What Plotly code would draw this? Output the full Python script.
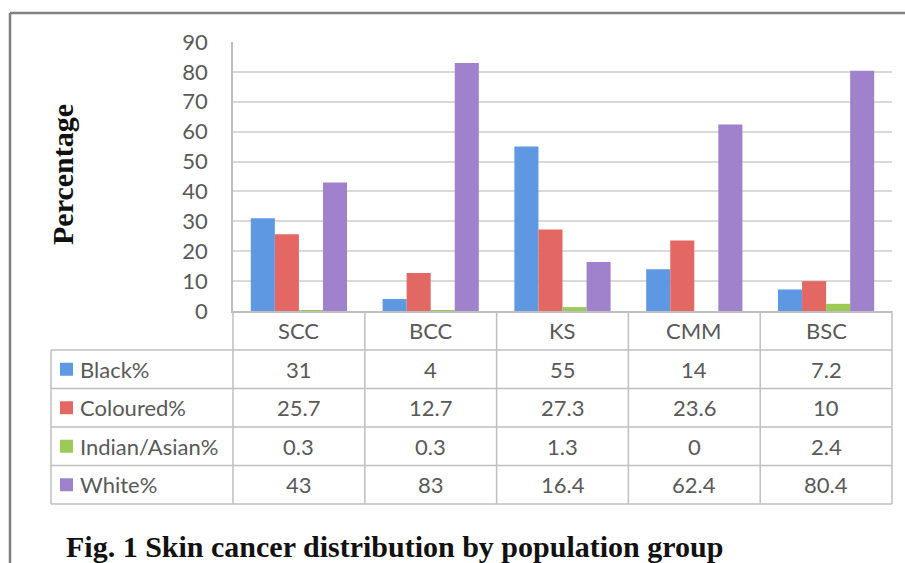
import plotly.graph_objects as go

categories = ["SCC", "BCC", "KS", "CMM", "BSC"]
series_names = ["Black%", "Coloured%", "Indian/Asian%", "White%"]
black = [31, 4, 55, 14, 7.2]
coloured = [25.7, 12.7, 27.3, 23.6, 10]
indian_asian = [0.3, 0.3, 1.3, 0, 2.4]
white = [43, 83, 16.4, 62.4, 80.4]
y_ticks = [0, 10, 20, 30, 40, 50, 60, 70, 80, 90]

series_values = [black, coloured, indian_asian, white]
colors = ["#5E98E3", "#E36863", "#9BCB55", "#9F82CB"]

W, H = 905, 563
L, R, T, B = 233, 892, 42, 311  # plot area in pixels


def xp(px):
    return (px - L) / (R - L)


def yp(py):
    return (B - py) / (B - T)


fig = go.Figure()
for name, vals, col in zip(series_names, series_values, colors):
    fig.add_trace(go.Bar(name=name, x=categories, y=vals, marker_color=col,
                         marker_line_width=0))

text_font = dict(family="Lato", size=22, color="#595959")
grid_col = "#D9D9D9"
table_col = "#BFBFBF"

fig.update_layout(
    width=W, height=H, autosize=False,
    margin=dict(l=L, r=W - R, t=T, b=H - B, pad=0),
    paper_bgcolor="white", plot_bgcolor="white",
    barmode="group", bargap=0.27, bargroupgap=0,
    showlegend=False,
    font=text_font,
)
fig.update_yaxes(range=[0, 90], tickvals=y_ticks, ticktext=[str(v) for v in y_ticks],
                 showgrid=True, gridcolor=grid_col, gridwidth=2,
                 showline=True, linecolor=table_col, linewidth=1.5,
                 zeroline=False, tickfont=text_font, ticklabelstandoff=19)
fig.update_xaxes(showticklabels=False, showline=True, linecolor=table_col, linewidth=1.5,
                 showgrid=False, zeroline=False)

shapes = []
# outer frame
shapes.append(dict(type="line", xref="paper", yref="paper", x0=xp(10), x1=xp(910),
                   y0=yp(13), y1=yp(13), line=dict(color="#7F7F7F", width=2.5)))
shapes.append(dict(type="line", xref="paper", yref="paper", x0=xp(10), x1=xp(10),
                   y0=yp(13), y1=yp(570), line=dict(color="#7F7F7F", width=2.5)))

# table geometry
row_lines = [350, 388.5, 427, 465.5, 504]
tab_left = 51
n = len(categories)
for i in range(n + 1):
    x = i / n
    shapes.append(dict(type="line", xref="paper", yref="paper", x0=x, x1=x,
                       y0=yp(B), y1=yp(row_lines[-1]), line=dict(color=table_col, width=1.5)))
shapes.append(dict(type="line", xref="paper", yref="paper", x0=xp(tab_left), x1=xp(tab_left),
                   y0=yp(row_lines[0]), y1=yp(row_lines[-1]), line=dict(color=table_col, width=1.5)))
for ry in row_lines:
    shapes.append(dict(type="line", xref="paper", yref="paper", x0=xp(tab_left), x1=1,
                       y0=yp(ry), y1=yp(ry), line=dict(color=table_col, width=1.5)))

annotations = []
# category header labels
for c in categories:
    annotations.append(dict(x=c, xref="x", y=yp((B + row_lines[0]) / 2), yref="paper",
                            text=c, showarrow=False, font=text_font,
                            xanchor="center", yanchor="middle"))
# rows
for r, (name, vals, col) in enumerate(zip(series_names, series_values, colors)):
    cy = (row_lines[r] + row_lines[r + 1]) / 2
    shapes.append(dict(type="rect", xref="paper", yref="paper",
                       x0=xp(60), x1=xp(73), y0=yp(cy - 6.5), y1=yp(cy + 6.5),
                       fillcolor=col, line=dict(width=0)))
    annotations.append(dict(x=xp(78), xref="paper", y=yp(cy), yref="paper", text=name,
                            showarrow=False, font=text_font, xanchor="left", yanchor="middle"))
    for c, v in zip(categories, vals):
        annotations.append(dict(x=c, xref="x", y=yp(cy), yref="paper", text=f"{v:g}",
                                showarrow=False, font=text_font,
                                xanchor="center", yanchor="middle"))

# axis title
annotations.append(dict(x=xp(62), xref="paper", y=yp(175), yref="paper", text="<b>Percentage</b>",
                        textangle=-90, showarrow=False,
                        font=dict(family="Liberation Serif", size=30, color="#111111"),
                        xanchor="center", yanchor="middle"))
# caption
annotations.append(dict(x=xp(64), xref="paper", y=yp(546), yref="paper",
                        text="<b>Fig. 1 Skin cancer distribution by population group</b>",
                        showarrow=False,
                        font=dict(family="Liberation Serif", size=30, color="#111111"),
                        xanchor="left", yanchor="middle"))

fig.update_layout(shapes=shapes, annotations=annotations)
fig.write_html("out.html", config={"displayModeBar": False},
               post_script="document.body.style.margin='0px';document.body.style.overflow='hidden';")
